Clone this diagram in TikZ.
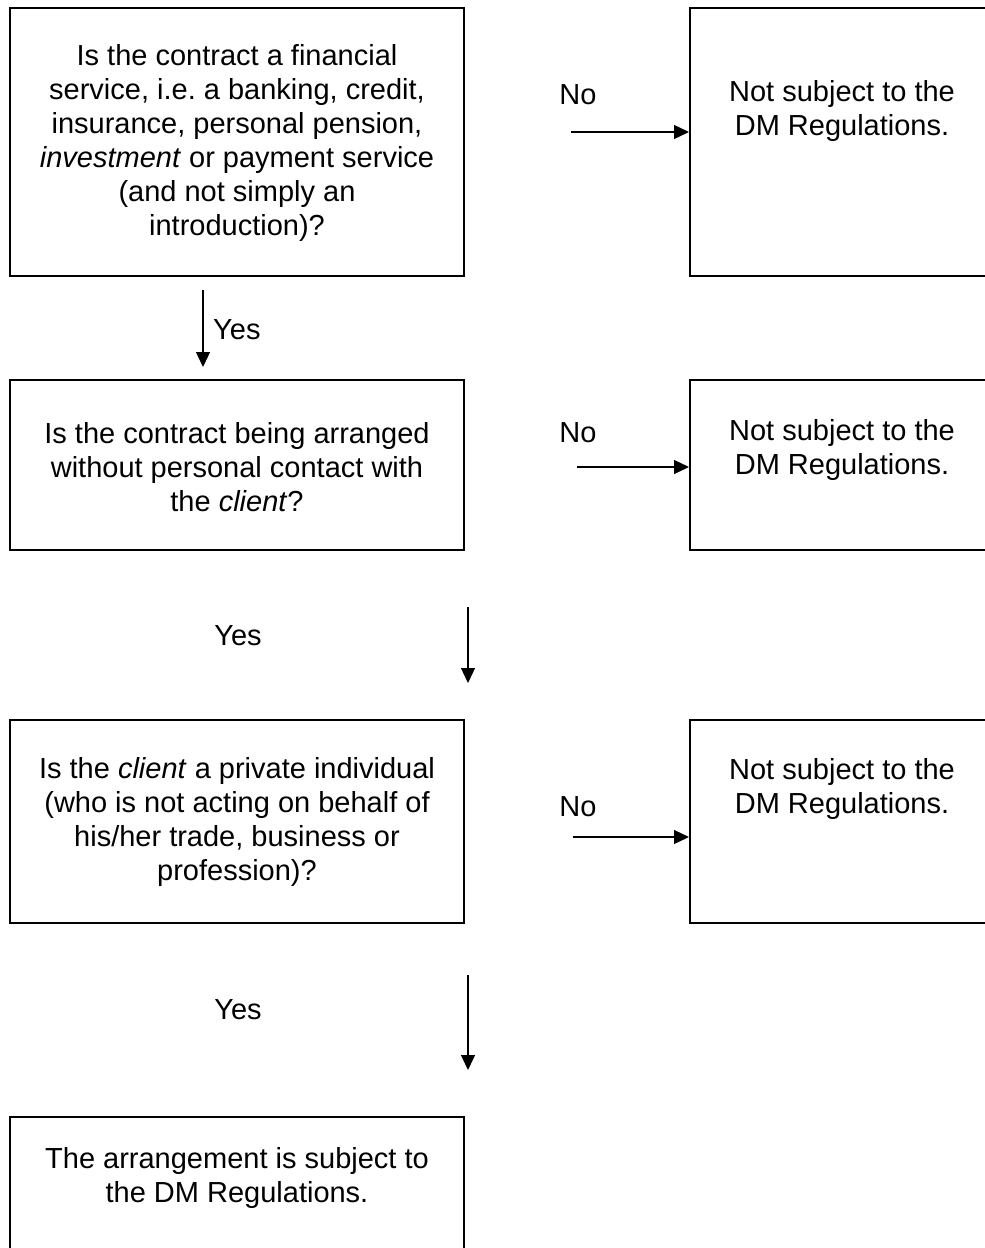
\documentclass[tikz,border=0pt]{standalone}
\usepackage{fontspec}
\setmainfont{Liberation Sans}
\usetikzlibrary{arrows.meta}
\frenchspacing
\begin{document}
\begin{tikzpicture}[x=1pt,y=-1pt,
  box/.style={draw, line width=2pt, minimum width=454pt, inner sep=0pt},
  rbox/.style={draw, line width=2pt, minimum width=304pt, inner sep=0pt},
  txt/.style={font=\fontsize{29}{34}\selectfont, align=center, inner sep=0pt},
  arr/.style={line width=1.3pt, -{Triangle[length=15pt,width=14pt]}}]
\useasboundingbox (0,0) rectangle (985,1248);
% left boxes
\node[box, minimum height=268pt] (q1) at (237,142) {};
\node[txt] (q1t) at (237,143) {Is the contract a financial\\service, i.e. a banking, credit,\\insurance, personal pension,\\\textit{investment} or payment service\\(and not simply an\\introduction)?};
\node[box, minimum height=170pt] (q2) at (237,465) {};
\node[txt] (q2t) at (237,467) {Is the contract being arranged\\without personal contact with\\the \textit{client}?};
\node[box, minimum height=203pt] (q3) at (237,821.5) {};
\node[txt] (q3t) at (237,821.5) {Is the \textit{client} a private individual\\(who is not acting on behalf of\\his/her trade, business or\\profession)?};
\node[box, minimum height=173pt] (q4) at (237,1203.5) {};
\node[txt] (q4t) at (237,1177.5) {The arrangement is subject to\\the DM Regulations.};
% right boxes
\node[rbox, minimum height=268pt] (n1) at (842,142) {};
\node[txt] (n1t) at (842,110.5) {Not subject to the\\DM Regulations.};
\node[rbox, minimum height=170pt] (n2) at (842,465) {};
\node[txt] (n2t) at (842,450) {Not subject to the\\DM Regulations.};
\node[rbox, minimum height=203pt] (n3) at (842,821.5) {};
\node[txt] (n3t) at (842,789) {Not subject to the\\DM Regulations.};
% No labels and arrows
\node[txt] (no1) at (578,95) {No};
\node[txt] (no2) at (578,433) {No};
\node[txt] (no3) at (578,807) {No};
\coordinate (a1) at (571,132);
\coordinate (a2) at (577,467);
\coordinate (a3) at (573,837);
\draw[arr] (a1) -- (a1 -| n1.west);
\draw[arr] (a2) -- (a2 -| n2.west);
\draw[arr] (a3) -- (a3 -| n3.west);
% Yes labels and arrows
\coordinate (y1s) at (203,290);
\coordinate (y1e) at (203,367);
\draw[arr] (y1s) -- (y1e);
\node[txt, anchor=west] (yes1) at (213,330) {Yes};
\coordinate (y2s) at (468,607);
\coordinate (y2e) at (468,683);
\draw[arr] (y2s) -- (y2e);
\node[txt] (yes2) at (238,636) {Yes};
\coordinate (y3s) at (468,975);
\coordinate (y3e) at (468,1070);
\draw[arr] (y3s) -- (y3e);
\node[txt] (yes3) at (238,1010) {Yes};
\end{tikzpicture}
\end{document}
